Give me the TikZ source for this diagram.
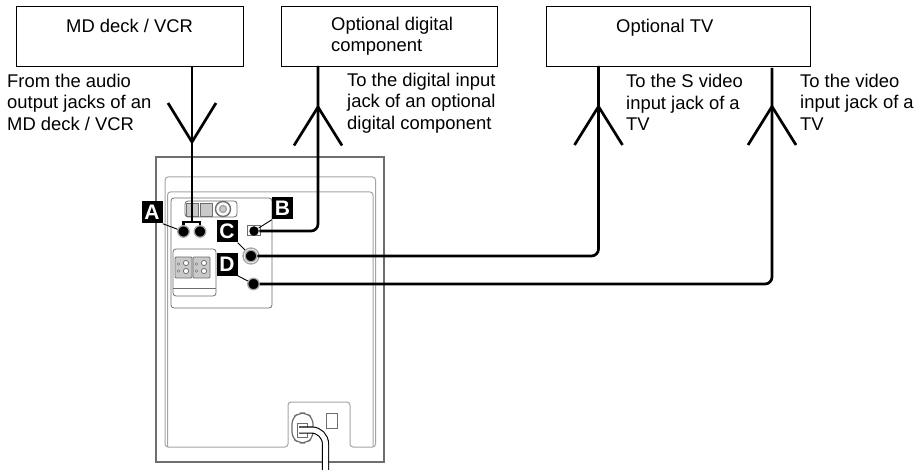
\documentclass[tikz,border=0pt]{standalone}
\usepackage{fontspec}
\setmainfont{Liberation Sans}
\usetikzlibrary{calc}
\definecolor{mygray}{RGB}{110,110,110}
\definecolor{mylight}{RGB}{165,165,165}
\newcommand{\labelfont}{\fontsize{18.4}{21.5}\selectfont}
\begin{document}
\begin{tikzpicture}[x=1pt,y=-1pt,
  unitbox/.style={rectangle,draw,line width=1pt,inner sep=0pt,anchor=north west},
  txt/.style={inner sep=0pt,anchor=north west,align=left,font=\labelfont},
  cable/.style={line width=2.7pt,black},
  shell/.style={draw=mygray,line width=2pt},
  trim/.style={draw=mylight,line width=1pt,rounded corners=3pt},
  jack/.style={circle,fill=black,draw=mylight,line width=1.3pt,inner sep=0pt,minimum size=11.5pt},
  tag/.style={rectangle,fill=black,text=white,inner sep=0pt,minimum width=21pt,minimum height=22pt,
              font=\fontsize{21}{21}\selectfont\bfseries},
  leader/.style={black,line width=0.9pt},
  part/.style={draw=mygray,fill=mylight!60,line width=0.9pt}]
\useasboundingbox (0,0) rectangle (923,470);
\fill[white] (0,0) rectangle (923,470);

% units at the top
\node[unitbox,minimum width=227pt,minimum height=59.5pt] (vcr) at (16,6.5) {};
\node[unitbox,minimum width=216pt,minimum height=59.5pt] (dig) at (281,6.5) {};
\node[unitbox,minimum width=264pt,minimum height=59.5pt] (tv) at (546,6.5) {};
\node[txt] (vcrname) at (66,19) {MD deck / VCR};
\node[txt] (digname) at (331,16.5) {Optional digital\\component};
\node[txt] (tvname) at (616,19) {Optional TV};

\node[txt] (vcrtext) at (7,73.5) {From the audio\\output jacks of an\\MD deck / VCR};
\node[txt] (digtext) at (347,72.5) {To the digital input\\jack of an optional\\digital component};
\node[txt] (stext) at (626,74) {To the S video\\input jack of a\\TV};
\node[txt] (vidtext) at (800,73.5) {To the video\\input jack of a\\TV};

% rear panel
\draw[shell] (156,462) -- (156,157.5) -- (384,157.5) -- (384,462) -- cycle;
\draw[trim] (165,192) -- (165,177) -- (375.5,177) -- (375.5,192);
\draw[trim] (165,192) -- (165,447) -- (288,447) -- (288,402) -- (350,402) -- (350,447)
  -- (375.5,447) -- (375.5,192);
\draw[trim] (167.5,447) -- (167.5,192) -- (373,192) -- (373,447);
\draw[trim,draw=mygray,line width=0.8pt] (171,308) rectangle (272,198);
\draw[trim,draw=mygray,line width=0.8pt] (185,217) rectangle (237,201);
\draw[part] (186,203) rectangle (198.5,216);
\draw[part] (200,203) rectangle (212,216);
\draw[draw=mygray,fill=white,line width=1.4pt] (223,209) circle (7.5pt);
\draw[draw=mylight,fill=mylight!60,line width=1.4pt] (223,209) circle (3.5pt);
\draw[trim,draw=mygray,line width=0.8pt] (173,296) rectangle (216,249);
\draw[draw=mygray,line width=0.8pt] (173,288) -- (216,288);
\foreach \dx in {0,18} {
  \draw[part,rounded corners=1pt] (175+\dx,257) rectangle (192+\dx,278);
  \draw[draw=mygray,fill=white,line width=0.8pt] (186+\dx,263) circle (2.6pt);
  \draw[draw=mygray,fill=white,line width=0.8pt] (186+\dx,271) circle (2.6pt);
  \draw[draw=mygray,fill=white,line width=0.6pt] (178.5+\dx,264) circle (1.3pt);
  \draw[draw=mygray,fill=white,line width=0.6pt] (178.5+\dx,271) circle (1.3pt);
}

% power inlet
\draw[draw=mygray,line width=1.2pt,rounded corners=6pt] (292,418) -- (299,413) -- (306,413)
  -- (313,418) -- (313,438) -- (306,443) -- (299,443) -- (292,438) -- cycle;
\draw[part,fill=white] (297,423) rectangle (307,437);
\draw[draw=mygray,line width=1pt] (326,413) rectangle (337,428);
\coordinate (inlet) at (299,430);
\coordinate (mains) at (325.5,470);
\draw[black,line width=1.1pt,double=white,double distance=5pt,rounded corners=14pt]
  (inlet) -- (inlet -| mains) -- (mains);

% jacks
\draw[draw=mygray,fill=white,line width=1pt] (247,226) rectangle (260,236);
\node[jack] (jackal) at (183.5,231.5) {};
\node[jack] (jackar) at (200,231.5) {};
\node[jack,draw=none,minimum size=9.5pt] (jackb) at (254,231) {};
\node[circle,draw=mylight,fill=white,line width=1.3pt,inner sep=0pt,minimum size=16pt] (ringc) at (251,256) {};
\node[jack] (jackc) at (251,256) {};
\node[jack] (jackd) at (253.5,284) {};

% cable ends
\coordinate (vcrout) at (192,66);
\coordinate (bridge) at (192,222);
\coordinate (digin) at (318,66);
\coordinate (sin) at (598.5,66);
\coordinate (vidin) at (772,68);
\draw[cable] (vcrout) -- (bridge);
\draw[cable] (jackal) -- (jackal |- bridge) -- (jackar |- bridge) -- (jackar);
\draw[cable,rounded corners=7pt] (digin) -- (digin |- jackb) -- (jackb);
\draw[cable,rounded corners=7pt] (sin) -- (sin |- jackc) -- (jackc);
\draw[cable,rounded corners=7pt] (vidin) -- (vidin |- jackd) -- (jackd);
\coordinate (forka) at (192,142);
\draw[cable] ($(forka)+(-24,-39)$) -- (forka) -- ($(forka)+(24,-39)$);
\coordinate (forkb) at (318,107);
\coordinate (forkc) at (598.5,106.5);
\coordinate (forkd) at (772,106.5);
\foreach \fork in {forkb,forkc,forkd}
  \draw[cable] ($(\fork)+(-24,38.5)$) -- (\fork) -- ($(\fork)+(24,38.5)$);

% letters
\node[tag] (taga) at (152,212.5) {A};
\node[tag] (tagb) at (282.5,208.5) {B};
\node[tag] (tagc) at (227,231.5) {C};
\node[tag] (tagd) at (227,264.5) {D};
\draw[leader] (taga.south east) -- (jackal);
\draw[leader] (tagb.south west) -- (jackb);
\draw[leader] (tagc.south east) -- (ringc);
\draw[leader] (tagd.south east) -- (jackd);
\end{tikzpicture}
\end{document}
